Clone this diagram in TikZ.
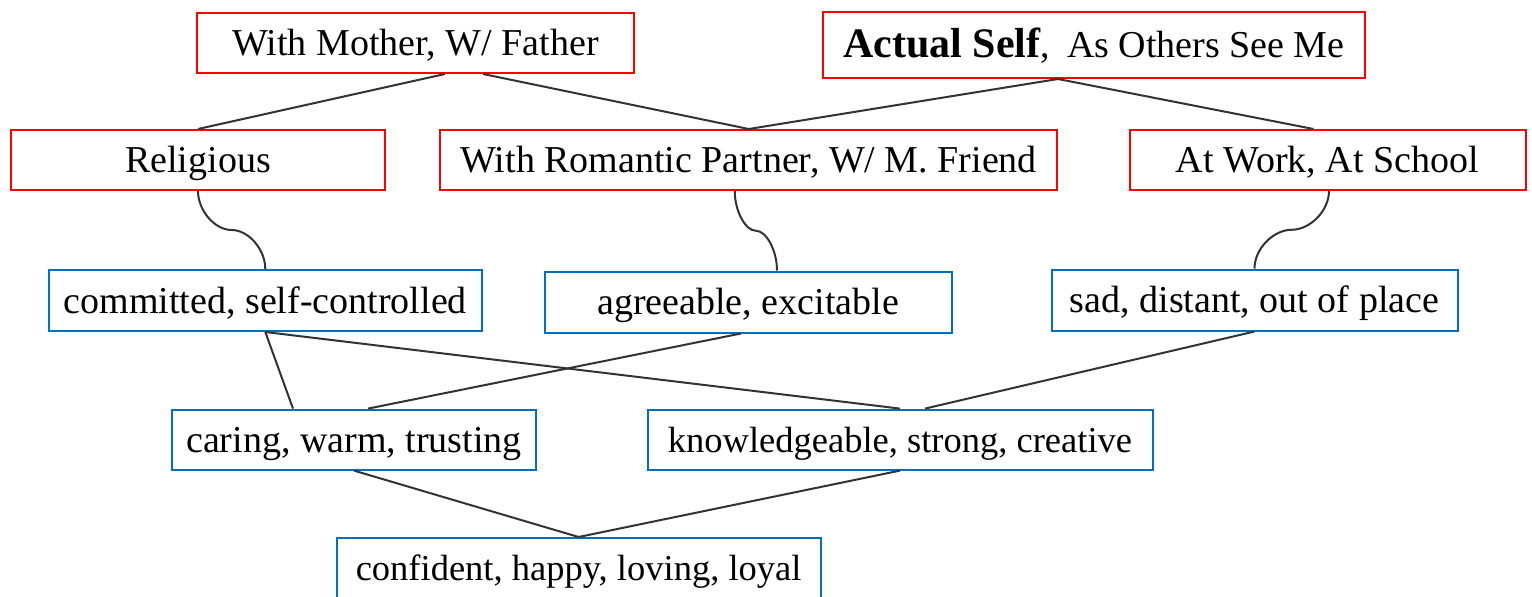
\documentclass[tikz,border=0pt]{standalone}
\usepackage{fontspec}
\setmainfont{Liberation Serif}
\usetikzlibrary{calc}
\definecolor{boxred}{HTML}{FF0000}
\definecolor{boxblue}{HTML}{0070C0}
\definecolor{conn}{HTML}{333333}
\begin{document}
\begin{tikzpicture}[x=1pt,y=-1pt,
  base/.style={draw,line width=2pt,inner sep=0pt,align=center,
    font=\fontsize{38}{44}\selectfont,text height=25pt,text depth=0pt},
  redbox/.style={base,draw=boxred},
  bluebox/.style={base,draw=boxblue},
  narrowtext/.style={font=\fontsize{36.5}{44}\selectfont},
  link/.style={draw=conn,line width=2pt}]
\useasboundingbox (0,0) rectangle (1532,597);
\fill[white] (0,0) rectangle (1532,597);

% top row
\node[redbox,minimum width=437pt,minimum height=60pt] (mother) at (415.6,43) {With Mother, W/ Father};
\node[redbox,minimum width=542pt,minimum height=66pt] (actual) at (1094,45)
  {{\bfseries\fontsize{42}{48}\selectfont Actual Self},\hspace{0.45em}As Others See Me};

% second row
\node[redbox,minimum width=374pt,minimum height=60pt] (rel) at (198,160) {Religious};
\node[redbox,minimum width=617pt,minimum height=60pt] (rom) at (748.75,160) {With Romantic Partner, W/ M. Friend};
\node[redbox,minimum width=396pt,minimum height=60pt] (work) at (1327.5,160) {At Work, At School};

% third row
\node[bluebox,minimum width=433pt,minimum height=61pt] (com) at (265.3,300.5) {committed, self-controlled};
\node[bluebox,minimum width=407pt,minimum height=61pt] (agr) at (748,302) {agreeable, excitable};
\node[bluebox,minimum width=406pt,minimum height=61pt] (sad) at (1254.5,300) {sad, distant, out of place};

% fourth row
\node[bluebox,minimum width=364pt,minimum height=60pt] (car) at (354,439.6) {caring, warm, trusting};
\node[bluebox,narrowtext,minimum width=505pt,minimum height=60pt] (kno) at (900,439.6) {knowledgeable, strong, creative};

% bottom row
\node[bluebox,narrowtext,minimum width=484pt,minimum height=60pt] (con) at (578.6,568) {confident, happy, loving, loyal};

% straight connectors, top
\draw[link] ([xshift=29.4pt]mother.south) -- (rel.north);
\draw[link] ([xshift=67.4pt]mother.south) -- (rom.north);
\draw[link] ([xshift=-36pt]actual.south) -- (rom.north);
\draw[link] ([xshift=-36pt]actual.south) -- ([xshift=-14pt]work.north);

% curved connectors
\coordinate (c1a) at (rel.south);
\coordinate (c1b) at (com.north);
\draw[link] (c1a) .. controls +(0,19.5) and +(-17,0) .. ($(c1a)!0.5!(c1b)$)
  .. controls +(17,0) and +(0,-19.5) .. (c1b);

\coordinate (c2a) at ([xshift=-14pt]rom.south);
\coordinate (c2b) at ([xshift=29pt]agr.north);
\draw[link] (c2a) .. controls +(0,20) and +(-10.5,0) .. ($(c2a)!0.5!(c2b)$)
  .. controls +(10.5,0) and +(0,-20) .. (c2b);

\coordinate (c3a) at ([xshift=1.5pt]work.south);
\coordinate (c3b) at (sad.north);
\draw[link] (c3a) .. controls +(0,19.6) and +(18.5,0) .. ($(c3a)!0.5!(c3b)$)
  .. controls +(-18.5,0) and +(0,-19.6) .. (c3b);

% straight connectors, bottom
\draw[link] (com.south) -- ([xshift=-61pt]car.north);
\draw[link] (com.south) -- (kno.north);
\draw[link] ([xshift=-7pt]agr.south) -- ([xshift=14pt]car.north);
\draw[link] (sad.south) -- ([xshift=25pt]kno.north);
\draw[link] (car.south) -- (con.north);
\draw[link] (kno.south) -- (con.north);
\end{tikzpicture}
\end{document}
